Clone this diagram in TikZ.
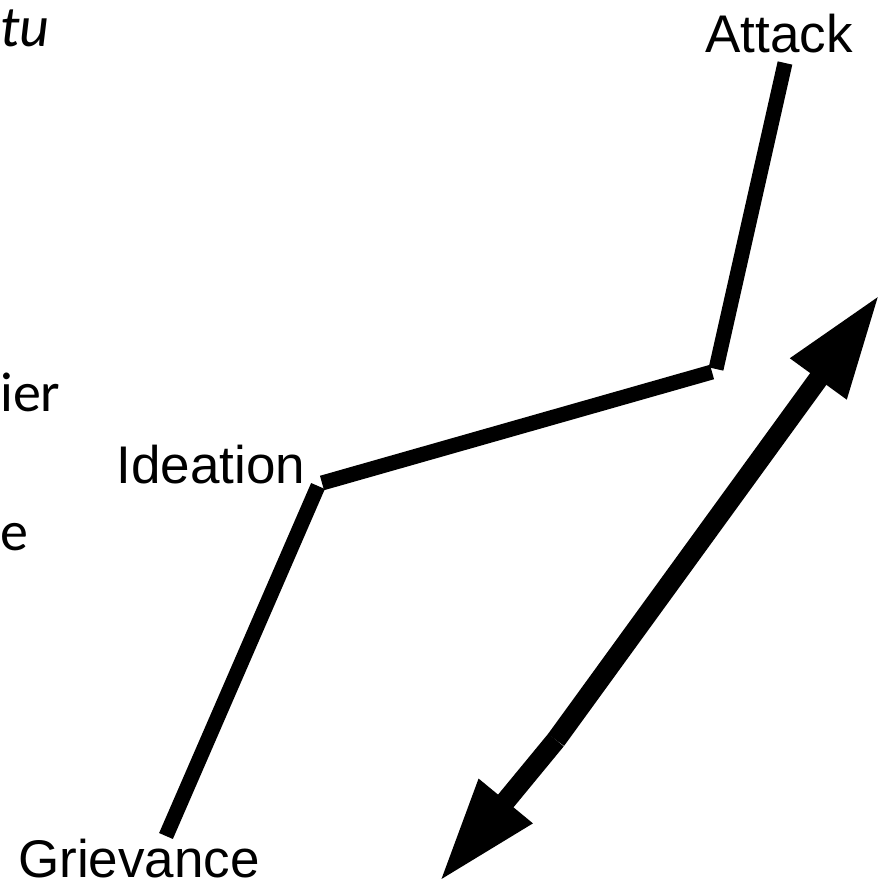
\documentclass[tikz,border=0pt]{standalone}
\usepackage{fontspec}
\setmainfont{Liberation Sans}
\newfontfamily\calib{Carlito}
\usetikzlibrary{arrows.meta}
\tikzset{
  label/.style={inner sep=0pt, anchor=base, font=\fontsize{53}{60}\selectfont},
  frag/.style={inner sep=0pt, anchor=base west, font=\calib\fontsize{56}{62}\selectfont},
  pathline/.style={line width=15pt, line cap=butt},
  bigarrow/.style={line width=20pt, line cap=butt, -{Triangle[length=105pt,width=64pt]}}
}
\begin{document}
\begin{tikzpicture}[x=1pt,y=-1pt]
\useasboundingbox (0,0) rectangle (881,887);
\clip (0,0) rectangle (881,887);
% fragments of text at the left edge
\node[frag, font=\calib\fontsize{58}{64}\selectfont] (f1) at (0,46) {\itshape tu};
\node[frag] (f2) at (0,411) {ier};
\node[frag] (f3) at (0,550) {e};
% labels
\node[label] (att) at (779,52) {Attack};
\node[label] (ide) at (211,483) {Ideation};
\node[label] (gri) at (139,877) {Grievance};
% pathway
\coordinate (g1) at (166,836);
\coordinate (g2) at (318,486);
\coordinate (i1) at (322,483);
\coordinate (i2) at (712,372);
\coordinate (j1) at (716,369);
\coordinate (a1) at (785,63);
\draw[pathline] (g1) -- (g2);
\draw[pathline] (i1) -- (i2);
\draw[pathline] (j1) -- (a1);
% double arrow
\coordinate (m) at (556,740);
\coordinate (lt) at (439,882);
\coordinate (ut) at (880,294);
\draw[bigarrow] (m) -- (ut);
\draw[bigarrow] (m) -- (lt);
\end{tikzpicture}
\end{document}
